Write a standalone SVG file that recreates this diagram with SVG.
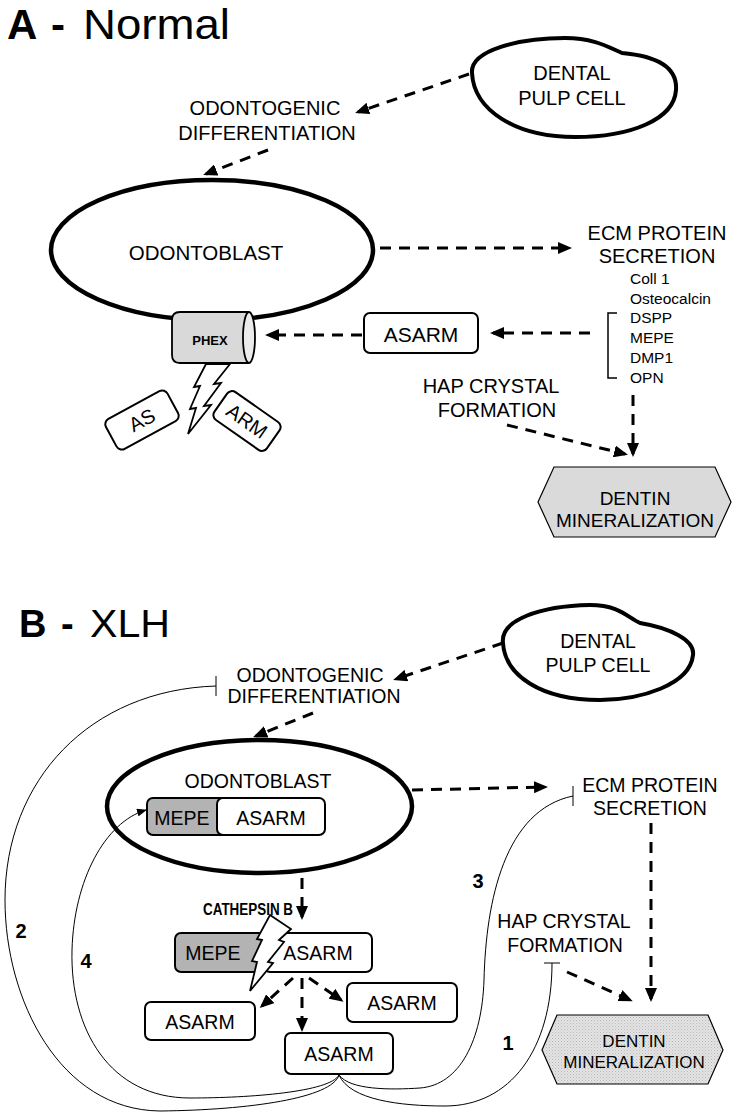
<svg xmlns="http://www.w3.org/2000/svg" width="735" height="1117" viewBox="0 0 735 1117">
<defs>
<style>
text{font-family:"Liberation Sans",Arial,sans-serif;fill:#000}
.t20{font-size:20px;text-anchor:middle}
.t19{font-size:19.5px;text-anchor:middle}
.lst{font-size:15.5px}
.dash{fill:none;stroke:#000;stroke-width:3;stroke-dasharray:11 8;marker-end:url(#ah)}
.inh{fill:none;stroke:#000;stroke-width:1}
.box{fill:#fff;stroke:#000;stroke-width:2}
.cell{fill:#fff;stroke:#000;stroke-width:4.5}
.num{font-size:20px;font-weight:bold;text-anchor:middle}
.bolt{fill:#fff;stroke:#000;stroke-width:1.8;stroke-linejoin:miter}
</style>
<marker id="ah" viewBox="0 0 14 12" refX="11" refY="6" markerWidth="14" markerHeight="12" markerUnits="userSpaceOnUse" orient="auto"><path d="M0,0 L14,6 L0,12 z" fill="#000"/></marker>
<marker id="ahs" viewBox="0 0 10 8" refX="9" refY="4" markerWidth="10" markerHeight="8" markerUnits="userSpaceOnUse" orient="auto"><path d="M0,0 L10,4 L0,8 z" fill="#000"/></marker>
<pattern id="dots" width="3" height="3" patternUnits="userSpaceOnUse"><rect width="3" height="3" fill="#e4e4e4"/><rect width="1" height="1" fill="#b8b8b8"/><rect x="1.5" y="1.5" width="1" height="1" fill="#c6c6c6"/></pattern>
</defs>
<rect width="735" height="1117" fill="#fff"/>

<!-- ===== Panel A ===== -->
<g id="titleA">
<text x="7" y="39" font-size="42" font-weight="bold">A</text>
<text x="51" y="39" font-size="42" font-weight="bold">-</text>
<text x="83" y="39" font-size="42" textLength="147" lengthAdjust="spacingAndGlyphs">Normal</text>
</g>

<g id="A-pulp">
<path d="M472,73 C470,50 520,38 565,38 C595,38 610,48 622,53 C645,55 678,62 676,90 C674,120 630,137 575,137 C515,137 474,110 472,73 Z" fill="#fff" stroke="#000" stroke-width="4"/>
<text class="t20" x="572" y="80">DENTAL</text>
<text class="t20" x="572" y="105">PULP CELL</text>
</g>

<g id="A-diff">
<text class="t20" x="265" y="115">ODONTOGENIC</text>
<text class="t20" x="267" y="140">DIFFERENTIATION</text>
</g>

<g id="A-odontoblast">
<ellipse class="cell" cx="212" cy="250" rx="161" ry="70"/>
<text x="206" y="260" font-size="20.5" text-anchor="middle">ODONTOBLAST</text>
</g>

<g id="A-ecm">
<text class="t20" x="657" y="240">ECM PROTEIN</text>
<text class="t20" x="657" y="263">SECRETION</text>
<text class="lst" x="630" y="284">Coll 1</text>
<text class="lst" x="630" y="304">Osteocalcin</text>
<text class="lst" x="630" y="323">DSPP</text>
<text class="lst" x="630" y="343">MEPE</text>
<text class="lst" x="630" y="363">DMP1</text>
<text class="lst" x="630" y="383">OPN</text>
<path d="M617,313 H608 V378 H617" fill="none" stroke="#000" stroke-width="1.5"/>
</g>

<g id="A-asarm">
<rect class="box" x="364" y="313" width="114" height="40" rx="6"/>
<text x="421" y="342" font-size="21" text-anchor="middle">ASARM</text>
</g>

<g id="A-phex">
<path d="M249,312 H180 Q172,312 172,320 V355 Q172,363 180,363 H249" fill="#d9d9d9" stroke="#000" stroke-width="1.8"/>
<ellipse cx="249" cy="337.5" rx="6" ry="25.5" fill="#ebebeb" stroke="#000" stroke-width="1.8"/>
<text x="210" y="345" font-size="13" font-weight="bold" text-anchor="middle">PHEX</text>
</g>

<g id="A-bolt">
<polygon class="bolt" points="206,364 230,364 214,384 221,383 204,406 211,405 188,434 196,408 190,409 200,386 194,387"/>
</g>

<g id="A-as" transform="translate(142,420) rotate(-28.5)">
<rect class="box" x="-35" y="-17" width="70" height="34" rx="6"/>
<text x="0" y="7" font-size="20" text-anchor="middle">AS</text>
</g>

<g id="A-arm" transform="translate(247,421) rotate(35)">
<rect class="box" x="-32" y="-17" width="64" height="34" rx="6"/>
<text x="0" y="7" font-size="20" text-anchor="middle">ARM</text>
</g>

<g id="A-hap">
<text class="t20" x="491" y="393">HAP CRYSTAL</text>
<text class="t20" x="497" y="417">FORMATION</text>
</g>

<g id="A-dentin">
<polygon points="538,502 554,467 715,467 731,502 715,537 554,537" fill="#dadada" stroke="#000" stroke-width="1.2"/>
<text x="635" y="505" font-size="19" text-anchor="middle">DENTIN</text>
<text x="635" y="527" font-size="19" text-anchor="middle">MINERALIZATION</text>
</g>

<g id="A-connectors">
<path class="dash" d="M469,74 L358,112"/>
<path class="dash" d="M268,150 L206,174"/>
<path class="dash" d="M380,248 L569,248"/>
<path class="dash" d="M590,333 L493,333"/>
<path class="dash" d="M362,335 L268,335"/>
<path class="dash" d="M507,425 L625,454"/>
<path class="dash" d="M633,395 L633,454"/>
</g>

<!-- ===== Panel B ===== -->
<g id="titleB">
<text x="19" y="637" font-size="38" font-weight="bold">B</text>
<text x="61" y="637" font-size="38" font-weight="bold">-</text>
<text x="90" y="637" font-size="38" textLength="80" lengthAdjust="spacingAndGlyphs">XLH</text>
</g>

<g id="B-pulp">
<path d="M503,643 C500,620 540,606 590,605 C620,605 628,618 640,623 C670,628 695,640 693,655 C690,685 640,700 600,700 C540,700 505,675 503,643 Z" fill="#fff" stroke="#000" stroke-width="4"/>
<text class="t19" x="598" y="648">DENTAL</text>
<text class="t19" x="598" y="672">PULP CELL</text>
</g>

<g id="B-diff">
<text class="t19" x="310" y="682">ODONTOGENIC</text>
<text class="t19" x="314" y="703">DIFFERENTIATION</text>
</g>

<g id="B-odontoblast">
<ellipse class="cell" cx="259.5" cy="806.5" rx="152.5" ry="66.5"/>
<text class="t19" x="258" y="788">ODONTOBLAST</text>
<rect x="147" y="798" width="80" height="37" rx="6" fill="#b3b3b3" stroke="#000" stroke-width="2"/>
<rect class="box" x="217" y="798" width="108" height="37" rx="6"/>
<text class="t19" x="182" y="825">MEPE</text>
<text class="t19" x="271" y="825">ASARM</text>
</g>

<g id="B-ecm">
<text class="t19" x="650" y="792">ECM PROTEIN</text>
<text class="t19" x="650" y="815">SECRETION</text>
</g>

<g id="B-hap">
<text class="t19" x="564" y="928">HAP CRYSTAL</text>
<text class="t19" x="565" y="952">FORMATION</text>
</g>

<g id="B-dentin">
<polygon points="542,1050 557,1015 708,1015 723,1050 708,1084 557,1084" fill="url(#dots)" stroke="#000" stroke-width="1.2"/>
<text x="634" y="1047" font-size="17" text-anchor="middle">DENTIN</text>
<text x="634" y="1068" font-size="17" text-anchor="middle">MINERALIZATION</text>
</g>

<g id="B-cathepsin">
<text x="203" y="915" font-size="16" font-weight="bold" textLength="90" lengthAdjust="spacingAndGlyphs">CATHEPSIN B</text>
</g>

<g id="B-mepe-asarm">
<rect x="175" y="933" width="90" height="39" rx="6" fill="#b3b3b3" stroke="#000" stroke-width="2"/>
<rect class="box" x="264" y="933" width="108" height="39" rx="6"/>
<text class="t19" x="213" y="960">MEPE</text>
<text class="t19" x="318" y="960">ASARM</text>
</g>

<g id="B-bolt">
<polygon class="bolt" points="270,915 291,929 279,940 284,942 268,962 273,963 250,991 257,962 252,961 262,940 257,939"/>
</g>

<g id="B-asarm-left">
<rect class="box" x="145" y="1002" width="110" height="38" rx="6"/>
<text class="t19" x="200" y="1029">ASARM</text>
</g>
<g id="B-asarm-right">
<rect class="box" x="347" y="983" width="110" height="39" rx="6"/>
<text class="t19" x="402" y="1010">ASARM</text>
</g>
<g id="B-asarm-bottom">
<rect class="box" x="285" y="1033" width="108" height="41" rx="6"/>
<text class="t19" x="339" y="1061">ASARM</text>
</g>

<g id="B-connectors">
<path class="dash" d="M503,643 L396,679"/>
<path class="dash" d="M313,713 L256,736"/>
<path class="dash" d="M412,790 L545,787"/>
<path class="dash" d="M651,823 L651,999"/>
<path class="dash" d="M567,972 L630,1000"/>
<path class="dash" d="M302,878 L302,917"/>
<path class="dash" d="M293,978 L262,1006"/>
<path class="dash" d="M302,978 L302,1029"/>
<path class="dash" d="M309,978 L341,1000"/>
<path class="inh" d="M339,1075 C332,1098 250,1110 160,1111 C60,1110 5,1000 5,900 C5,780 90,690 216,686"/>
<path class="inh" d="M216,676 V696"/>
<path class="inh" d="M339,1075 C330,1092 250,1098 190,1098 C110,1098 70,1030 72,950 C74,880 105,822 146,810" marker-end="url(#ahs)"/>
<path class="inh" d="M339,1075 C350,1090 390,1090 420,1088 C460,1085 482,1040 484,980 C486,900 505,810 573,796"/>
<path class="inh" d="M573,786 V806"/>
<path class="inh" d="M339,1075 C350,1100 400,1106 445,1106 C510,1106 552,1050 552,963"/>
<path class="inh" d="M544,963 H560"/>
<text class="num" x="21" y="938">2</text>
<text class="num" x="86" y="968">4</text>
<text class="num" x="478" y="888">3</text>
<text class="num" x="508" y="1050">1</text>
</g>
</svg>
